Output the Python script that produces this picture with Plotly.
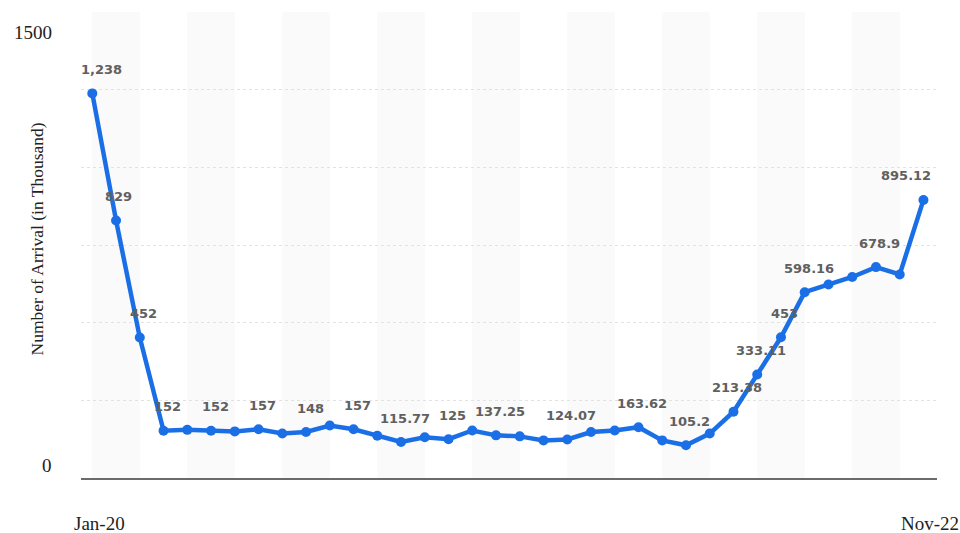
import plotly.graph_objects as go

# Monthly tourist arrivals, in thousands
arrivals = [
    1238, 829, 452, 152, 155, 152, 150, 157, 143, 148, 169, 157,
    136, 115.77, 131, 125, 153, 137.25, 134, 121, 124.07, 148, 153, 163.62,
    121, 105.2, 143, 213.38, 333.11, 453, 598.16, 623, 647, 678.9, 655, 895.12,
]
# Value labels shown above selected points (None = no label)
value_labels = [
    "1,238", "829", "452", "152", None, "152", None, "157", None, "148", None, "157",
    None, "115.77", None, "125", None, "137.25", None, None, "124.07", None, None, "163.62",
    None, "105.2", None, "213.38", "333.11", "453", "598.16", None, None, "678.9", None, "895.12",
]
x_tick_labels = ["Jan-20", "Nov-22"]
y_tick_labels = ["0", "1500"]
y_title = "Number of Arrival (in Thousand)"

x = list(range(len(arrivals)))
line_color = "#1b6fe6"
serif = "Liberation Serif"

fig = go.Figure()
fig.add_trace(go.Scatter(
    x=x, y=arrivals, mode="lines+markers",
    line=dict(color=line_color, width=4.5),
    marker=dict(color=line_color, size=10),
    hoverinfo="x+y", showlegend=False,
))

# alternating light column bands, two months wide
shapes = []
for k in range(0, len(arrivals) - 1, 4):
    shapes.append(dict(
        type="rect", xref="x", yref="y", x0=k, x1=k + 2, y0=0, y1=1500,
        fillcolor="#fafafa", line=dict(width=0), layer="below",
    ))

# horizontal nudges for a few value labels
label_xshift = {0: 9, 1: 2, len(arrivals) - 1: -17}

annotations = []
for i, (v, lab) in enumerate(zip(arrivals, value_labels)):
    if lab is None:
        continue
    annotations.append(dict(
        x=i, y=v, xref="x", yref="y", text=lab, showarrow=False,
        xanchor="center", yanchor="middle",
        xshift=label_xshift.get(i, 4), yshift=24,
        font=dict(family="DejaVu Sans", size=13, color="#606060", weight="bold"),
    ))

# y axis end labels
for val, txt, shift in [(0, y_tick_labels[0], 13), (1500, y_tick_labels[1], -20)]:
    annotations.append(dict(
        x=-0.476, y=val, xref="x", yref="y", text=txt, showarrow=False,
        xanchor="right", yanchor="middle", xshift=-27, yshift=shift,
        font=dict(family=serif, size=19, color="#222222"),
    ))

# x axis end labels
for xi, txt in [(0, x_tick_labels[0]), (len(arrivals) - 1, x_tick_labels[1])]:
    annotations.append(dict(
        x=xi, y=0, xref="x", yref="y", text=txt, showarrow=False,
        xanchor="center", yanchor="middle", xshift=7, yshift=-45,
        font=dict(family=serif, size=19, color="#222222"),
    ))

# rotated axis title
annotations.append(dict(
    x=-0.476, y=768, xref="x", yref="y", text=y_title, showarrow=False,
    textangle=-90, xanchor="center", yanchor="middle", xshift=-44,
    font=dict(family=serif, size=17.5, color="#222222"),
))

fig.update_layout(
    width=960, height=533,
    margin=dict(l=81, r=23, t=12, b=55),
    paper_bgcolor="white", plot_bgcolor="white",
    shapes=shapes, annotations=annotations,
    xaxis=dict(
        range=[-0.476, 35.57], showgrid=False, zeroline=False,
        showticklabels=False, ticks="",
        showline=True, linecolor="#6b6b6b", linewidth=2,
        fixedrange=True,
    ),
    yaxis=dict(
        range=[0, 1500], tickvals=[250, 500, 750, 1000, 1250, 1500],
        showticklabels=False, ticks="", zeroline=False,
        showgrid=True, gridcolor="#e2e2e2", griddash="dot", gridwidth=1,
        fixedrange=True,
    ),
)

fig.write_html("out.html")
